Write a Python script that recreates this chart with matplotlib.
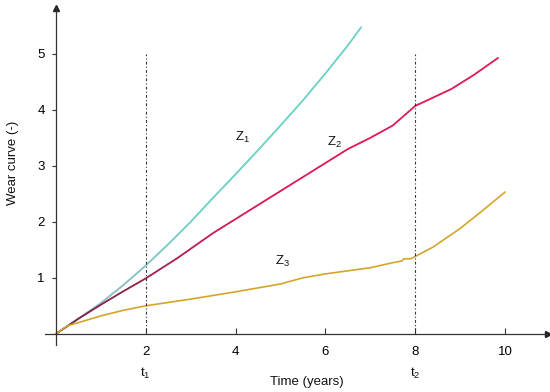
import numpy as np
import matplotlib
matplotlib.use("Agg")
import matplotlib.pyplot as plt
from matplotlib.collections import LineCollection
from matplotlib.colors import to_rgb

plt.rcParams['font.family'] = ['Liberation Sans', 'DejaVu Sans']
plt.rcParams['mathtext.fontset'] = 'custom'
plt.rcParams['mathtext.rm'] = 'Liberation Sans'
plt.rcParams['mathtext.it'] = 'Liberation Sans'
plt.rcParams['mathtext.default'] = 'regular'

# Data
z1_x = [0, 0.5, 1.0, 1.5, 2.0, 2.5, 3.0, 3.5, 4.0, 4.5, 5.0, 5.5, 6.0, 6.5, 6.8]
z1_y = [0, 0.27, 0.55, 0.87, 1.22, 1.6, 2.0, 2.43, 2.85, 3.28, 3.72, 4.17, 4.65, 5.15, 5.48]

z2_x = [0, 0.5, 1.0, 1.5, 2.0, 2.7, 3.5, 4.5, 5.0, 5.5, 6.0, 6.5, 7.0, 7.5, 8.0, 8.4, 8.8, 9.3, 9.85]
z2_y = [0, 0.27, 0.52, 0.76, 0.99, 1.35, 1.8, 2.3, 2.55, 2.8, 3.05, 3.3, 3.5, 3.72, 4.07, 4.22, 4.37, 4.62, 4.93]

z3_x = [0, 0.25, 0.5, 1.0, 1.5, 2.0, 3.0, 4.0, 5.0, 5.5, 6.0, 7.0, 7.5, 7.7, 7.75, 7.9, 8.0, 8.4, 9.0, 9.5, 10.0]
z3_y = [0, 0.14, 0.2, 0.32, 0.42, 0.5, 0.62, 0.75, 0.89, 1.0, 1.07, 1.18, 1.27, 1.30, 1.34, 1.34, 1.38, 1.55, 1.88, 2.2, 2.53]

t_marks = [2, 8]
t_labels = ['t$_1$', 't$_2$']
x_ticks = [2, 4, 6, 8, 10]
y_ticks = [1, 2, 3, 4, 5]
curve_labels = ['Z$_1$', 'Z$_2$', 'Z$_3$']
label_pos = [(4.15, 3.5), (6.2, 3.42), (5.05, 1.3)]

fig = plt.figure(figsize=(5.5, 3.92), dpi=100)
ax = fig.add_axes([0.0818, 0.1199, 0.9146, 0.8597])
ax.set_xlim(-0.245, 10.96)
ax.set_ylim(-0.2, 5.82)

for s in ['top', 'right']:
    ax.spines[s].set_visible(False)
for s in ['left', 'bottom']:
    ax.spines[s].set_position(('data', 0))
    ax.spines[s].set_color('#333333')
    ax.spines[s].set_linewidth(0.9)

# arrows
ax.plot(1, 0, '>', color='#222222', ms=5, transform=ax.get_yaxis_transform(), clip_on=False)
ax.plot(0, 1, '^', color='#222222', ms=5, transform=ax.get_xaxis_transform(), clip_on=False)

ax.set_xticks(x_ticks)
ax.set_xticklabels([str(v) for v in x_ticks])
ax.set_yticks(y_ticks)
ax.set_yticklabels([str(v) for v in y_ticks])
ax.tick_params(axis='x', direction='in', length=4, pad=9, labelsize=9.5, color='#333333')
ax.tick_params(axis='y', direction='out', length=3, pad=5, labelsize=9.5, color='#333333')


def gradient_line(xs, ys, c0, c1, x_end):
    xs = np.asarray(xs, float)
    ys = np.asarray(ys, float)
    xd = np.linspace(xs[0], xs[-1], 400)
    yd = np.interp(xd, xs, ys)
    pts = np.column_stack([xd, yd]).reshape(-1, 1, 2)
    segs = np.concatenate([pts[:-1], pts[1:]], axis=1)
    f = np.clip(xd[:-1] / x_end, 0, 1)[:, None]
    cols = (1 - f) * np.array(to_rgb(c0)) + f * np.array(to_rgb(c1))
    lc = LineCollection(segs, colors=cols, linewidths=1.2, capstyle='round')
    ax.add_collection(lc)


gradient_line(z1_x, z1_y, '#a7b3c9', '#6fd3c6', 3.2)
gradient_line(z2_x, z2_y, '#6e2d45', '#e0205a', 4.5)
ax.plot(z3_x, z3_y, color='#d4a52a', lw=1.2)

for t in t_marks:
    ax.plot([t, t], [0, 5], color='#333333', lw=0.8, ls=(0, (1, 2, 2.5, 2)))

for lab, (px, py) in zip(curve_labels, label_pos):
    ax.text(px, py, lab, fontsize=9.5, ha='center', va='center', color='#111111')

for t, lab in zip(t_marks, t_labels):
    ax.text(t, -0.7, lab, fontsize=9.5, ha='center', va='center', color='#111111',
            clip_on=False)

fig.text(0.558, 0.026, 'Time (years)', fontsize=9.5, ha='center', va='center', color='#111111')
fig.text(0.024, 0.585, 'Wear curve (-)', fontsize=9.5, ha='center', va='center',
         rotation=90, color='#111111')

fig.savefig('out.png', dpi=100)
